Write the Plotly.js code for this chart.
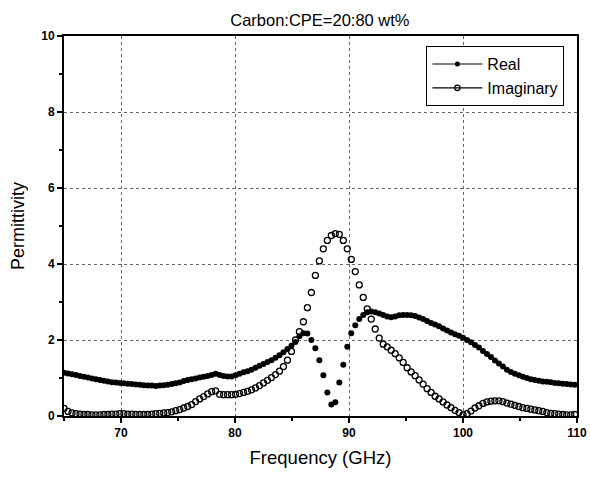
<!DOCTYPE html>
<html>
<head>
<meta charset="utf-8">
<script src="https://cdn.plot.ly/plotly-3.0.1.min.js"></script>
<style>html,body{margin:0;padding:0;background:#fff;}#chart{width:590px;height:477px;}</style>
</head>
<body>
<div id="chart"></div>
<script>
var frequency = [65.00,65.35,65.70,66.05,66.40,66.75,67.10,67.45,67.80,68.15,68.50,68.85,69.20,69.55,69.90,70.25,70.60,70.95,71.30,71.65,72.00,72.35,72.70,73.05,73.40,73.75,74.10,74.45,74.80,75.15,75.50,75.85,76.20,76.55,76.90,77.25,77.60,77.95,78.30,78.65,79.00,79.35,79.70,80.05,80.40,80.75,81.10,81.45,81.80,82.15,82.50,82.85,83.20,83.55,83.90,84.25,84.60,84.95,85.30,85.65,86.00,86.35,86.70,87.05,87.40,87.75,88.10,88.45,88.80,89.15,89.50,89.85,90.20,90.55,90.90,91.25,91.60,91.95,92.30,92.65,93.00,93.35,93.70,94.05,94.40,94.75,95.10,95.45,95.80,96.15,96.50,96.85,97.20,97.55,97.90,98.25,98.60,98.95,99.30,99.65,100.00,100.35,100.70,101.05,101.40,101.75,102.10,102.45,102.80,103.15,103.50,103.85,104.20,104.55,104.90,105.25,105.60,105.95,106.30,106.65,107.00,107.35,107.70,108.05,108.40,108.75,109.10,109.45,109.80];

var realPart = [1.14,1.12,1.10,1.08,1.05,1.03,1.01,0.99,0.97,0.95,0.93,0.91,0.89,0.88,0.87,0.86,0.85,0.84,0.83,0.82,0.81,0.80,0.80,0.79,0.80,0.81,0.82,0.84,0.86,0.88,0.92,0.95,0.97,0.99,1.01,1.03,1.05,1.08,1.11,1.08,1.05,1.04,1.04,1.07,1.11,1.15,1.18,1.22,1.27,1.32,1.37,1.42,1.47,1.53,1.60,1.68,1.76,1.85,1.95,2.10,2.18,2.17,2.00,1.78,1.47,1.07,0.62,0.30,0.36,0.88,1.35,1.82,2.18,2.39,2.55,2.66,2.73,2.75,2.73,2.70,2.66,2.62,2.60,2.62,2.65,2.66,2.66,2.65,2.63,2.59,2.55,2.50,2.45,2.41,2.36,2.30,2.25,2.20,2.15,2.11,2.06,2.00,1.94,1.87,1.80,1.71,1.63,1.55,1.46,1.38,1.30,1.22,1.16,1.11,1.07,1.03,1.00,0.97,0.95,0.93,0.91,0.90,0.89,0.87,0.86,0.85,0.84,0.83,0.82];

var imaginaryPart = [0.20,0.12,0.08,0.06,0.05,0.04,0.04,0.03,0.03,0.03,0.04,0.04,0.05,0.05,0.06,0.06,0.05,0.05,0.04,0.04,0.04,0.04,0.05,0.06,0.07,0.08,0.09,0.11,0.14,0.17,0.21,0.25,0.30,0.38,0.45,0.51,0.58,0.64,0.66,0.57,0.56,0.56,0.56,0.57,0.59,0.62,0.65,0.69,0.74,0.80,0.87,0.94,1.01,1.09,1.18,1.30,1.47,1.70,2.00,2.22,2.48,2.85,3.25,3.70,4.08,4.40,4.62,4.75,4.80,4.78,4.62,4.40,4.12,3.80,3.45,3.12,2.82,2.55,2.29,2.05,1.89,1.82,1.73,1.64,1.53,1.41,1.27,1.16,1.06,0.95,0.84,0.72,0.62,0.52,0.45,0.37,0.29,0.22,0.15,0.09,0.03,0.06,0.13,0.21,0.27,0.33,0.37,0.39,0.40,0.40,0.38,0.34,0.31,0.28,0.25,0.22,0.20,0.18,0.16,0.14,0.12,0.09,0.07,0.06,0.05,0.04,0.03,0.03,0.04];

var seriesNames = ['Real', 'Imaginary'];
var xTickVals = [70, 80, 90, 100, 110];
var yTickVals = [0, 2, 4, 6, 8, 10];

var traces = [
  {x: frequency, y: realPart, type: 'scatter', mode: 'markers', showlegend: false, cliponaxis: true,
   marker: {symbol: 'circle', size: 6, color: '#000'}},
  {x: frequency, y: imaginaryPart, type: 'scatter', mode: 'markers', showlegend: false, cliponaxis: true,
   marker: {symbol: 'circle-open', size: 6, color: '#000', line: {width: 1.3, color: '#000'}}},
  {x: [null], y: [null], type: 'scatter', mode: 'lines+markers', name: seriesNames[0],
   line: {color: '#000', width: 1.2}, marker: {symbol: 'circle', size: 5, color: '#000'}},
  {x: [null], y: [null], type: 'scatter', mode: 'lines+markers', name: seriesNames[1],
   line: {color: '#000', width: 1.2}, marker: {symbol: 'circle-open', size: 5.5, color: '#000', line: {width: 1.2, color: '#000'}}}
];

var tickFont = {family: 'Liberation Sans, Arial, sans-serif', size: 12, color: '#000', weight: 'bold'};

var layout = {
  width: 590, height: 477,
  margin: {l: 64, r: 13, t: 36, b: 61},
  paper_bgcolor: '#fff', plot_bgcolor: '#fff',
  title: {text: 'Carbon:CPE=20:80 wt%', font: {family: 'Liberation Sans, Arial, sans-serif', size: 16.5, color: '#000'},
          x: 0.5422, xanchor: 'center', y: 0.958, yanchor: 'middle'},
  xaxis: {
    range: [65, 110], tickvals: xTickVals, ticktext: xTickVals.map(String),
    ticks: 'outside', ticklen: 5, tickwidth: 1.5, tickcolor: '#000',
    minor: {tickvals: [65, 75, 85, 95, 105], ticks: 'outside', ticklen: 3, tickwidth: 1.2, tickcolor: '#000', showgrid: false},
    showline: true, linecolor: '#000', linewidth: 2, mirror: true,
    showgrid: true, gridcolor: '#666', griddash: 'dot', gridwidth: 1,
    zeroline: false, tickfont: tickFont,
    title: {text: 'Frequency (GHz)', font: {family: 'Liberation Sans, Arial, sans-serif', size: 18.5, color: '#000'}, standoff: 12}
  },
  yaxis: {
    range: [0, 10], tickvals: yTickVals, ticktext: yTickVals.map(String),
    ticks: 'outside', ticklen: 5, tickwidth: 1.5, tickcolor: '#000',
    minor: {tickvals: [1, 3, 5, 7, 9], ticks: 'outside', ticklen: 3, tickwidth: 1.2, tickcolor: '#000', showgrid: false},
    showline: true, linecolor: '#000', linewidth: 2, mirror: true,
    showgrid: true, gridcolor: '#666', griddash: 'dot', gridwidth: 1,
    zeroline: false, tickfont: tickFont,
    title: {text: 'Permittivity', font: {family: 'Liberation Sans, Arial, sans-serif', size: 18, color: '#000'}, standoff: 12}
  },
  legend: {x: 0.975, xanchor: 'right', y: 0.974, yanchor: 'top',
           bgcolor: '#fff', bordercolor: '#000', borderwidth: 1.2,
           font: {family: 'Liberation Sans, Arial, sans-serif', size: 16, color: '#000'},
           itemwidth: 50, tracegroupgap: 0}
};

Plotly.newPlot('chart', traces, layout, {displayModeBar: false, staticPlot: true});
</script>
</body>
</html>
